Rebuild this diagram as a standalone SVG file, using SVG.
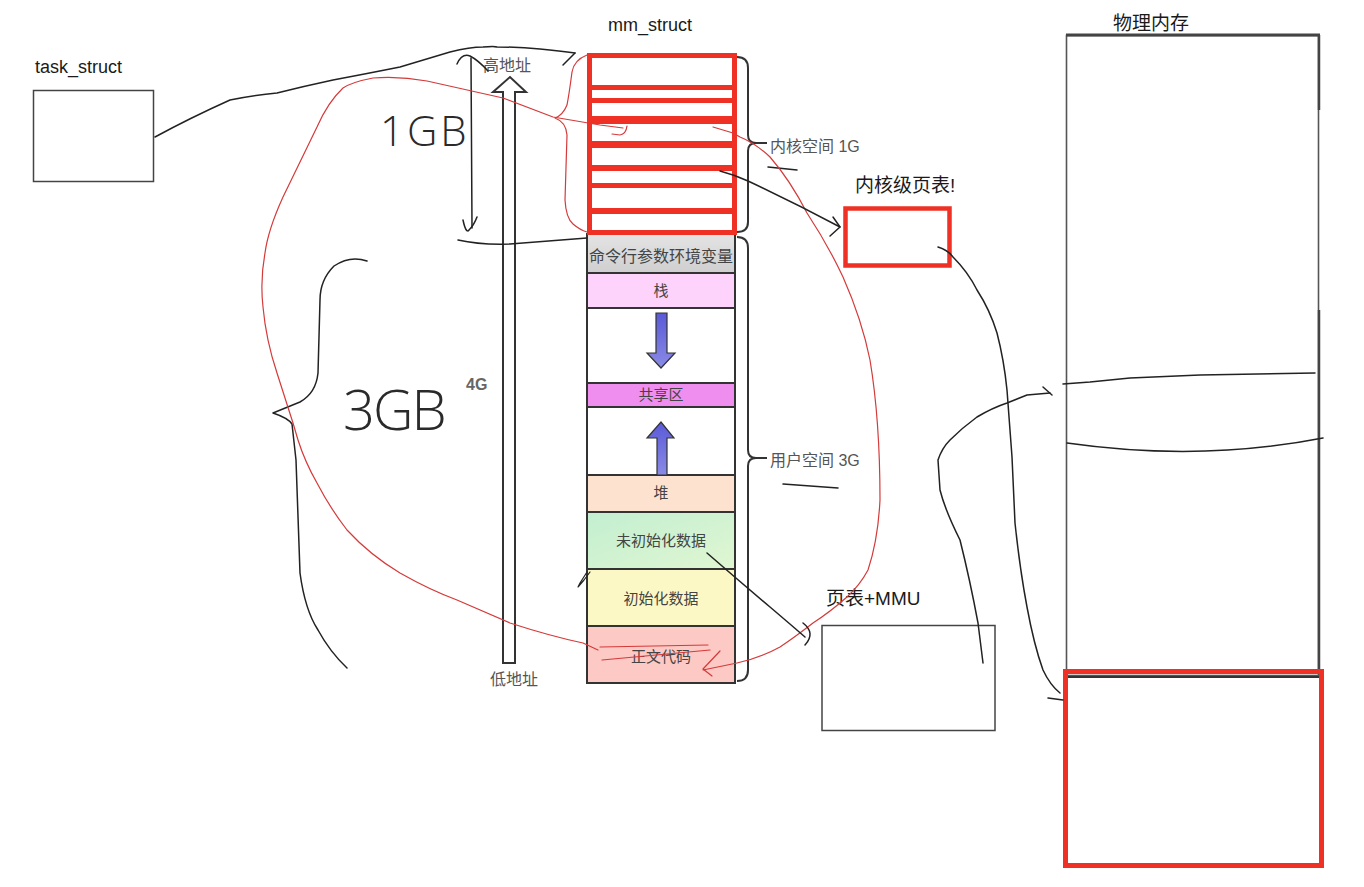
<svg xmlns="http://www.w3.org/2000/svg" width="1364" height="887" viewBox="0 0 1364 887">
<defs>
<style>
text{font-family:'Liberation Sans','Noto Sans CJK SC',sans-serif}
.lbl{font-size:18px;fill:#1a1a1a}
.seg{font-size:15px;fill:#444;text-anchor:middle}
.side{font-size:16px;fill:#555}
.hand{font-family:'Open Sans','Lato','Liberation Sans',sans-serif;font-weight:300;fill:#2a2a2a}
.box{fill:#fff;stroke:#444;stroke-width:1.5}
.red{fill:none;stroke:#ee3124;stroke-width:5}
.redbar{fill:#ee3124}
.ink{fill:none;stroke:#222;stroke-width:1.5;stroke-linecap:round;stroke-linejoin:round}
.rink{fill:none;stroke:#d43a3a;stroke-width:1.2;stroke-linecap:round;stroke-linejoin:round}
.segline{stroke:#333;stroke-width:2}
.brace{fill:none;stroke:#333;stroke-width:2}
</style>
<linearGradient id="gGray" x1="0" y1="0" x2="0" y2="1"><stop offset="0" stop-color="#e4e4e4"/><stop offset="1" stop-color="#cfcfcf"/></linearGradient>
<linearGradient id="gGreen" x1="0" y1="0" x2="1" y2="1"><stop offset="0" stop-color="#c2efd0"/><stop offset="1" stop-color="#e0f6d2"/></linearGradient>
<linearGradient id="gBlue" x1="0" y1="0" x2="0" y2="1"><stop offset="0" stop-color="#5a5ad8"/><stop offset="1" stop-color="#8a8ae6"/></linearGradient>
</defs>
<rect width="1364" height="887" fill="#fff"/>

<g id="task_struct">
<text class="lbl" x="35" y="73">task_struct</text>
<rect class="box" x="33.5" y="90.5" width="120" height="91"/>
</g>

<g id="mm_struct">
<text class="lbl" x="608" y="31">mm_struct</text>
<rect x="587" y="234" width="148" height="39" fill="url(#gGray)"/>
<text class="seg" x="661" y="262" style="font-size:16px">命令行参数环境变量</text>
<rect x="587" y="273" width="148" height="35" fill="#fdd2fb"/>
<text class="seg" x="661" y="296">栈</text>
<rect x="587" y="308" width="148" height="75" fill="#fff"/>
<rect x="587" y="383" width="148" height="24" fill="#f08ef0"/>
<text class="seg" x="661" y="400">共享区</text>
<rect x="587" y="407" width="148" height="68" fill="#fff"/>
<rect x="587" y="475" width="148" height="37" fill="#fde3cf"/>
<text class="seg" x="661" y="498">堆</text>
<rect x="587" y="512" width="148" height="57" fill="url(#gGreen)"/>
<text class="seg" x="661" y="546">未初始化数据</text>
<rect x="587" y="569" width="148" height="57" fill="#fcf8c6"/>
<text class="seg" x="661" y="604">初始化数据</text>
<rect x="587" y="626" width="148" height="57" fill="#fcc9c5"/>
<text class="seg" x="661" y="662">正文代码</text>
<line class="segline" x1="587" y1="273" x2="735" y2="273"/>
<line class="segline" x1="587" y1="308" x2="735" y2="308"/>
<line class="segline" x1="587" y1="383" x2="735" y2="383"/>
<line class="segline" x1="587" y1="407" x2="735" y2="407"/>
<line class="segline" x1="587" y1="475" x2="735" y2="475"/>
<line class="segline" x1="587" y1="512" x2="735" y2="512"/>
<line class="segline" x1="587" y1="569" x2="735" y2="569"/>
<line class="segline" x1="587" y1="626" x2="735" y2="626"/>
<rect x="587" y="234" width="148" height="449" fill="none" stroke="#333" stroke-width="2"/>
<polygon fill="url(#gBlue)" stroke="#333" stroke-width="1.2" points="656,313 667,313 667,353 675,353 661,368 647,353 656,353"/>
<polygon fill="url(#gBlue)" stroke="#333" stroke-width="1.2" points="657,475 667,475 667,438 674,438 661,422 647,438 657,438"/>
<rect x="587" y="54" width="150" height="180" fill="#fff"/>
<rect class="redbar" x="588" y="85" width="148" height="5"/>
<rect class="redbar" x="588" y="98" width="148" height="5"/>
<rect class="redbar" x="588" y="116" width="148" height="8"/>
<rect class="redbar" x="588" y="141" width="148" height="7"/>
<rect class="redbar" x="588" y="165" width="148" height="6"/>
<rect class="redbar" x="588" y="183" width="148" height="5"/>
<rect class="redbar" x="588" y="208" width="148" height="6"/>
<rect class="red" x="589.5" y="55.5" width="145" height="177"/>
<path class="brace" d="M737,57 Q748,57 748,68 L748,135 Q748,143 756,143 L767,143 M756,143 Q748,143 748,151 L748,222 Q748,232 737,232"/>
<path class="brace" d="M737,237 Q748,237 748,248 L748,450 Q748,458 756,458 L767,458 M756,458 Q748,458 748,466 L748,670 Q748,681 737,681"/>
<text class="side" x="770" y="152">内核空间 1G</text>
<text class="side" x="770" y="466">用户空间 3G</text>
<polygon fill="#fff" stroke="#333" stroke-width="2" points="503,663 503,92 493,92 510,77 526,92 515,92 515,663"/>
<text class="side" x="483" y="71">高地址</text>
<text class="side" x="490" y="685">低地址</text>
<text x="466" y="390" style="font-size:16px;fill:#666;font-weight:bold">4G</text>
</g>

<g id="kernel_page_table">
<text class="lbl" x="855" y="192" style="font-size:19px">内核级页表!</text>
<rect x="845.5" y="208.5" width="104" height="57" fill="#fff" stroke="#ee3124" stroke-width="4.5"/>
</g>

<g id="page_table_mmu">
<text class="lbl" x="826" y="605" style="font-size:19px">页表+MMU</text>
<rect class="box" x="822" y="625.5" width="173" height="105"/>
</g>

<g id="physical_memory">
<text class="lbl" x="1113" y="30" style="font-size:19px">物理内存</text>
<rect x="1066.5" y="35.5" width="252" height="640" fill="#fff" stroke="#555" stroke-width="1.6"/>
<line x1="1066" y1="35" x2="1320" y2="35" stroke="#444" stroke-width="3"/>
<line x1="1319" y1="35" x2="1319" y2="110" stroke="#444" stroke-width="2.5"/>
<line x1="1319" y1="310" x2="1319" y2="670" stroke="#444" stroke-width="2.5"/>
<line x1="1067" y1="677" x2="1320" y2="677" stroke="#333" stroke-width="1.8"/>
<rect x="1065.5" y="671.5" width="256" height="194" fill="none" stroke="#ee3124" stroke-width="5"/>
</g>

<g id="annotations">
<text class="hand" x="380" y="146" style="font-size:42px" letter-spacing="3">1GB</text>
<text class="hand" x="343" y="430" style="font-size:56px" letter-spacing="-2">3GB</text>
<path class="ink" d="M457,64 Q462,53 470,56 Q478,60 488,71"/>
<path class="ink" d="M471,58 L472,228"/>
<path class="ink" d="M463,220 Q466,234 469,230 Q474,225 477,217"/>
<path class="ink" d="M458,240 Q480,245 510,244 L587,238"/>
<path class="ink" d="M367,261 Q350,255 334,266 Q320,280 320,300 L318,373 Q316,393 300,402 L273,413 Q288,418 292,424 L296,460 L300,573 Q305,610 318,630 Q330,652 347,668"/>
<path class="ink" d="M768,167 L797,170"/>
<path class="ink" d="M783,484 L838,488"/>
<path class="ink" d="M1063,384 L1090,382 L1130,378 L1200,375 L1315,373"/>
<path class="ink" d="M1067,443 Q1200,462 1323,438"/>
<path class="ink" d="M587,572 L580,583 L578,587 L584,580 L590,572" style="stroke-width:1.2"/>
<path class="rink" d="M587,55 Q574,60 572,72 Q569,95 567,105 Q563,115 555,118 Q566,122 567,135 L565,200 Q566,218 573,224 Q580,230 587,232"/>
<path class="rink" d="M623,128 L600,125 L553,117 L503,98 L427,81 Q400,76 373,78 Q352,82 343,88 Q328,102 317,127 L283,197 Q268,230 265,253 Q260,280 263,307 Q266,340 277,373 L293,423 L298,440 Q305,462 317,483 Q330,508 347,530 Q370,555 400,573 Q430,590 457,600 L510,623 Q550,636 583,643 L598,650"/>
<path class="rink" d="M627,126 Q626,134 620,135 L612,134"/>
<path class="rink" d="M600,647 L708,645"/>
<path class="rink" d="M602,660 L710,650"/>
<path class="rink" d="M713,127 L733,133 L740,137 Q755,143 770,157 Q790,180 807,213 Q828,245 843,277 Q862,320 870,360 Q880,420 880,500 Q878,540 868,570 Q860,585 847,597 Q830,612 813,623 Q795,637 780,647 Q760,658 737,663 L703,670"/>
<path class="rink" d="M720,651 L703,669 L712,676"/>
</g>

<g id="connectors">
<path class="ink" d="M155,137 Q190,118 230,100 Q255,95 277,93 Q305,86 333,80 Q370,73 400,67 Q430,58 450,52 Q470,47 483,47 Q495,46 497,47 Q520,47 540,49 Q560,51 575,53"/>
<path class="ink" d="M575,53 L563,65"/>
<path class="ink" d="M720,171 Q735,175 748,181 Q795,203 840,227"/>
<path class="ink" d="M830,236 L840,227 L833,217"/>
<path class="ink" d="M707,553 Q738,580 770,607 Q790,624 805,637"/>
<path class="ink" d="M803,623 Q816,633 805,645"/>
<path class="ink" d="M938,247 Q948,250 953,257 Q968,272 977,290 Q990,310 997,333 Q1004,360 1007,390 L1012,457 L1015,523 Q1020,570 1027,607 Q1034,645 1043,670 Q1050,685 1060,693"/>
<path class="ink" d="M1048,698 L1063,700"/>
<path class="ink" d="M983,663 L978,623 Q970,580 960,540 Q945,510 940,490 L938,460 Q942,448 950,440 Q962,428 977,417 Q992,408 1007,403 L1027,395 L1050,393"/>
<path class="ink" d="M1043,387 L1052,395"/>
</g>
</svg>
